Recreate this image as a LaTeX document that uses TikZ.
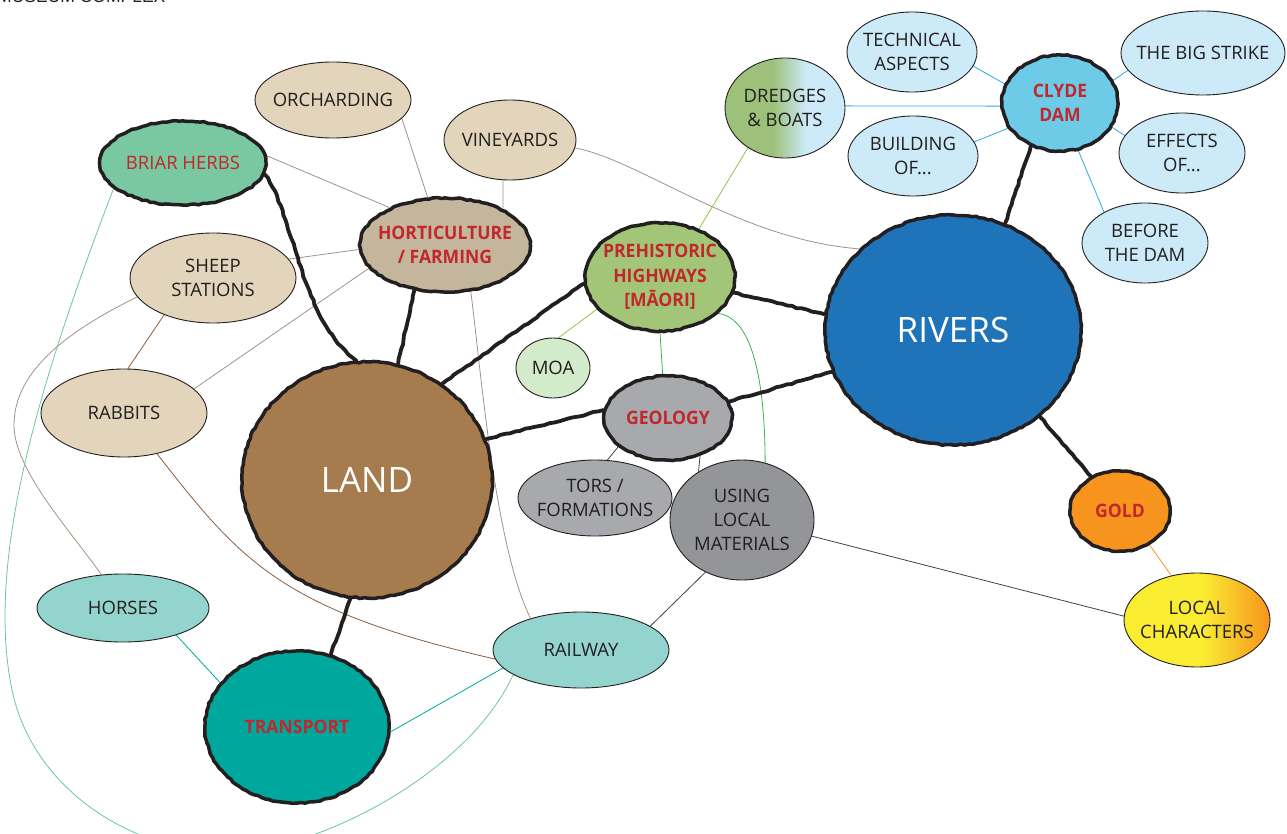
\documentclass[tikz,border=0pt]{standalone}
\usepackage{fontspec}
\setmainfont{Open Sans}
\newfontfamily\boldlabel[FakeStretch=0.95]{Open Sans}
\newfontfamily\headfont{Liberation Sans}
\usetikzlibrary{shapes.geometric,decorations.pathmorphing,backgrounds}

\definecolor{ink}{HTML}{231F20}
\definecolor{topicred}{HTML}{C1272D}
\definecolor{beige}{HTML}{E3D5BB}
\definecolor{briarfill}{HTML}{7AC8A1}
\definecolor{hortfill}{HTML}{C3B69C}
\definecolor{landbrown}{HTML}{A67B4D}
\definecolor{prehistfill}{HTML}{A3C577}
\definecolor{moafill}{HTML}{D4EBCB}
\definecolor{geogray}{HTML}{A7A9AC}
\definecolor{matgray}{HTML}{939598}
\definecolor{riverblue}{HTML}{1F73B8}
\definecolor{damblue}{HTML}{6DCBE7}
\definecolor{paleblue}{HTML}{CDEAF9}
\definecolor{goldorange}{HTML}{F7941D}
\definecolor{charyellow}{HTML}{F9EC31}
\definecolor{teallight}{HTML}{93D4CE}
\definecolor{transteal}{HTML}{00A79D}
\definecolor{dredgegreen}{HTML}{9DC17A}
\definecolor{twig}{HTML}{A39282}
\definecolor{bark}{HTML}{8B5E3C}
\definecolor{leaf}{HTML}{8DC63F}
\definecolor{fern}{HTML}{39B54A}
\definecolor{sky}{HTML}{29ABE2}
\definecolor{sea}{HTML}{00A99D}
\definecolor{mint}{HTML}{6CC5A0}
\definecolor{slate}{HTML}{414042}

\pgfdeclarehorizontalshading{dredgeshade}{100bp}{color(0bp)=(dredgegreen); color(45bp)=(dredgegreen); color(59bp)=(paleblue); color(100bp)=(paleblue)}
\pgfdeclarehorizontalshading{charshade}{100bp}{color(0bp)=(charyellow); color(52bp)=(charyellow); color(75bp)=(goldorange); color(100bp)=(goldorange)}

\begin{document}
\pgfmathsetseed{11}
\begin{tikzpicture}[x=1pt, y=-1pt,
  ell/.style 2 args={minimum width=#1pt, minimum height=#2pt},
  label/.style={font=\fontsize{18.5}{24}\selectfont},
  plain/.style={ellipse, draw=ink, line width=0.9pt, inner sep=-20pt, align=center, text=ink, label},
  rough/.style={ellipse, draw=ink, line width=3.5pt, inner sep=-20pt, align=center, decorate, decoration={random steps, segment length=4pt, amplitude=0.7pt}},
  topic/.style={rough, text=topicred, font=\boldlabel\bfseries\fontsize{18.5}{24.5}\selectfont},
  theme/.style={rough, text=white, font=\fontsize{35}{40}\selectfont},
  link/.style={line width=0.8pt},
  brush/.style={draw=ink, line width=3.8pt, line cap=round, line join=round, decorate, decoration={random steps, segment length=5pt, amplitude=0.7pt}}]

\useasboundingbox (0,0) rectangle (1287,834);
\clip (0,0) rectangle (1287,834);

\node[anchor=base west, inner sep=0pt, text=ink, font=\headfont\fontsize{17.5}{20}\selectfont] (header) at (-3,3) {MUSEUM COMPLEX};

\node[plain, fill=beige, ell={156}{76}] (orcharding) at (333,100) {ORCHARDING};
\node[plain, fill=beige, ell={132}{80}] (vineyards) at (510,140) {VINEYARDS};
\node[rough, fill=briarfill, text=topicred, label, ell={166}{84}] (briar) at (183,163) {BRIAR HERBS};
\node[topic, fill=hortfill, ell={170}{94}] (horticulture) at (445,245) {HORTICULTURE\\/ FARMING};
\node[plain, fill=beige, ell={166}{90}] (sheep) at (213,278) {SHEEP\\STATIONS};
\node[plain, fill=beige, ell={166}{88}] (rabbits) at (124,413) {RABBITS};
\node[theme, fill=landbrown, ell={250}{236}] (land) at (367,480) {LAND};
\node[topic, fill=prehistfill, ell={150}{108}] (prehistoric) at (660,277) {PREHISTORIC\\HIGHWAYS\\{[MĀORI]}};
\node[plain, shade, shading=dredgeshade, ell={120}{100}] (dredges) at (785,108) {DREDGES\\\& BOATS};
\node[plain, fill=moafill, ell={74}{60}] (moa) at (553,368) {MOA};
\node[topic, fill=geogray, ell={128}{84}] (geology) at (668,418) {GEOLOGY};
\node[plain, fill=geogray, ell={154}{76}] (tors) at (595,498) {TORS /\\FORMATIONS};
\node[plain, fill=matgray, ell={144}{120}] (materials) at (742,520) {USING\\LOCAL\\MATERIALS};
\node[theme, fill=riverblue, ell={256}{230}] (rivers) at (953,330) {RIVERS};
\node[topic, fill=damblue, ell={116}{96}] (clyde) at (1060,103) {CLYDE\\DAM};
\node[plain, fill=paleblue, ell={130}{80}] (technical) at (912,52) {TECHNICAL\\ASPECTS};
\node[plain, fill=paleblue, ell={164}{84}] (strike) at (1203,53) {THE BIG STRIKE};
\node[plain, fill=paleblue, ell={130}{80}] (building) at (913,156) {BUILDING\\OF...};
\node[plain, fill=paleblue, ell={126}{80}] (effects) at (1182,153) {EFFECTS\\OF...};
\node[plain, fill=paleblue, ell={126}{80}] (before) at (1145,243) {BEFORE\\THE DAM};
\node[topic, fill=goldorange, ell={100}{80}] (gold) at (1120,511) {GOLD};
\node[plain, shade, shading=charshade, ell={146}{94}] (characters) at (1197,620) {LOCAL\\CHARACTERS};
\node[plain, fill=teallight, ell={172}{68}] (horses) at (123,608) {HORSES};
\node[plain, fill=teallight, ell={176}{76}] (railway) at (581,650) {RAILWAY};
\node[topic, fill=transteal, ell={184}{152}] (transport) at (297,727) {TRANSPORT};

\begin{scope}[on background layer]
\draw[link, twig] (briar.5) -- (horticulture.146);
\draw[link, twig] (orcharding.-15) -- (horticulture.110);
\draw[link, twig] (vineyards.-100) -- (horticulture.32);
\draw[link, twig] (vineyards.-7) .. controls (640,160) and (740,240) .. (rivers.139);
\draw[link, twig] (sheep.14) -- (horticulture.183);
\draw[link, bark] (sheep.-143) -- (rabbits.85);
\draw[link, twig] (sheep.-166) .. controls (70,330) and (14,370) .. (14,425) .. controls (14,470) and (70,530) .. (horses.123);
\draw[link, twig] (rabbits.19) -- (horticulture.-163);
\draw[link, bark] (rabbits.-51) .. controls (240,560) and (280,610) .. (railway.186);
\draw[link, twig] (horticulture.-61) .. controls (482,380) and (495,545) .. (railway.148);
\draw[link, mint] (briar.-160) .. controls (40,380) and (-15,560) .. (12,690) .. controls (34,794) and (140,855) .. (232,852) .. controls (324,849) and (470,770) .. (railway.-160);
\draw[link, sea] (horses.-27) -- (transport.150);
\draw[link, sea] (transport.-3) -- (railway.-167);
\draw[link, leaf] (prehistoric.51) -- (dredges.-133);
\draw[link, leaf] (prehistoric.-153) -- (moa.80);
\draw[link, fern] (prehistoric.-90) -- (geology.97);
\draw[link, fern] (prehistoric.-32) .. controls (755,318) and (765,390) .. (materials.68);
\draw[link, slate] (geology.-150) -- (tors.72);
\draw[link, slate] (geology.-50) -- (materials.132);
\draw[link, slate] (materials.-125) -- (railway.19);
\draw[link, slate] (materials.-13) -- (characters.177);
\draw[link, goldorange] (gold.-49) -- (characters.120);
\draw[link, sky] (technical.-13) -- (clyde.161);
\draw[link, sky] (clyde.23) -- (strike.-167);
\draw[link, sky] (building.13) -- (clyde.-154);
\draw[link, sky] (clyde.-25) -- (effects.163);
\draw[link, sky] (clyde.-69) -- (before.143);
\draw[link, sky] (dredges.2) -- (clyde.183);

\draw[brush] (briar.-8) .. controls (295,215) and (300,320) .. (land.95);
\draw[brush] (horticulture.-124) -- (land.75);
\draw[brush] (land.52) -- (prehistoric.185);
\draw[brush] (land.19) -- (geology.173);
\draw[brush] (land.-98) -- (transport.65);
\draw[brush] (prehistoric.-12) -- (rivers.173);
\draw[brush] (geology.15) -- (rivers.-161);
\draw[brush] (rivers.64) -- (clyde.-124);
\draw[brush] (rivers.-45) -- (gold.130);
\end{scope}

\end{tikzpicture}
\end{document}
